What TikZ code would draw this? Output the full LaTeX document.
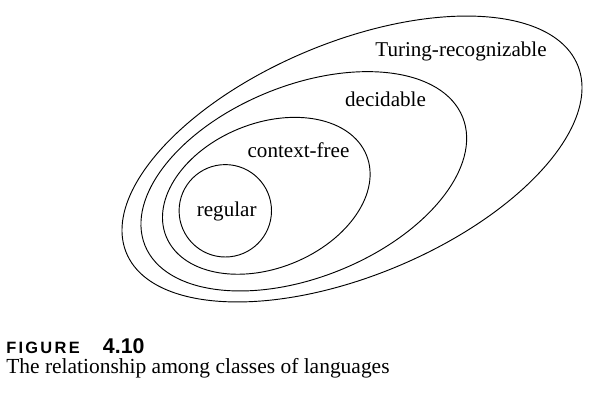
\documentclass[tikz,border=0pt]{standalone}
\usepackage{fontspec}
\setmainfont{Liberation Serif}
\setsansfont{Liberation Sans}
\usetikzlibrary{shapes.geometric}
\begin{document}
\begin{tikzpicture}[x=0.75pt,y=-0.75pt,
  setline/.style={draw=black,line width=0.7pt,inner sep=0pt,outer sep=0pt},
  egg/.style={setline,ellipse},
  lbl/.style={anchor=base,inner sep=0pt,font=\fontsize{15.8}{18}\selectfont},
  captxt/.style={anchor=base west,inner sep=0pt}]
\useasboundingbox (0,0) rectangle (601,400);
% sets
\node[egg,minimum width=366.6pt,minimum height=174.9pt,rotate=22.65] (turing) at (352,159) {};
\node[egg,minimum width=256.95pt,minimum height=143.85pt,rotate=22] (decidable) at (303.8,181.3) {};
\node[egg,minimum width=162.15pt,minimum height=108.6pt,rotate=22.1] (cfree) at (266.3,195.8) {};
\node[setline,circle,minimum size=69.3pt] (regular) at (225.3,210.8) {};
% labels
\node[lbl] (lturing) at (461,56.5) {Turing-recognizable};
\node[lbl] (ldecidable) at (385.5,106) {decidable};
\node[lbl] (lcfree) at (298.5,157) {context-free};
\node[lbl] (lregular) at (226.7,216.7) {regular};
% caption
\node[captxt,font=\sffamily\bfseries\fontsize{12.3}{14}\selectfont\addfontfeatures{LetterSpace=14}] (figword) at (6,353) {FIGURE};
\node[captxt,font=\sffamily\bfseries\fontsize{16}{18}\selectfont] (fignum) at (102.7,353) {4.10};
\node[captxt,font=\fontsize{16.1}{18}\selectfont] (figtext) at (6,373) {The relationship among classes of languages};
\end{tikzpicture}
\end{document}
